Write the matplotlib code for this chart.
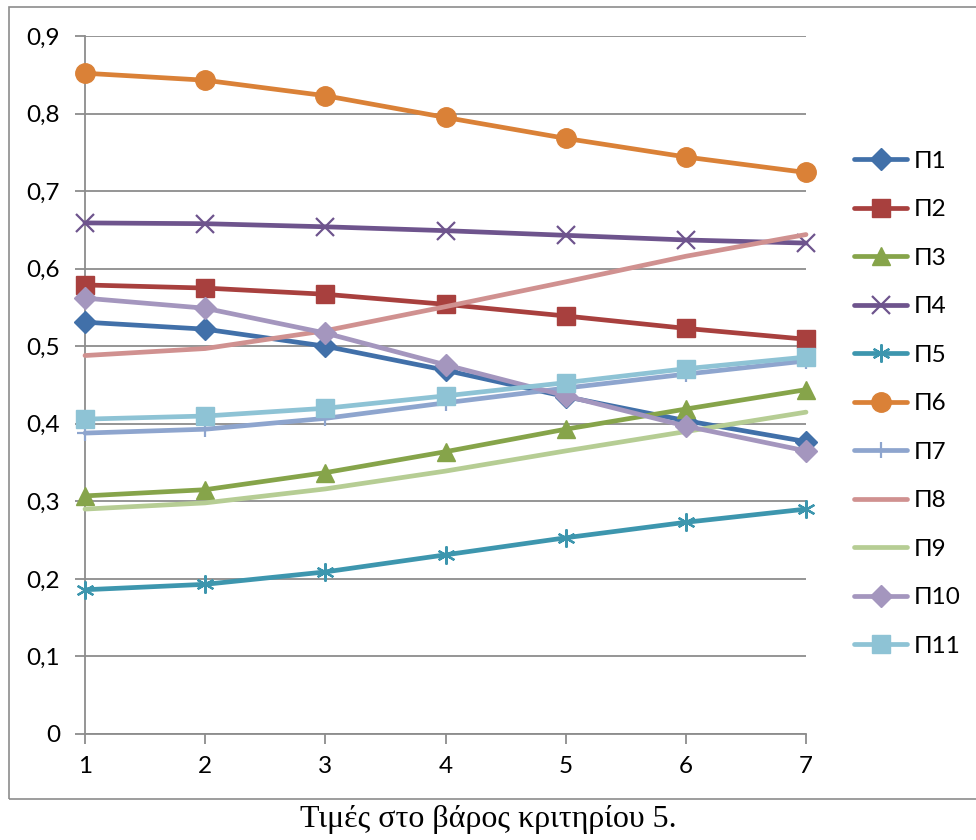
import matplotlib.pyplot as plt
import matplotlib.patches as mpatches
from matplotlib.ticker import FuncFormatter

# x positions and series values
x = [1, 2, 3, 4, 5, 6, 7]
p1 = [0.531, 0.522, 0.500, 0.469, 0.435, 0.404, 0.377]
p2 = [0.579, 0.575, 0.567, 0.554, 0.539, 0.523, 0.509]
p3 = [0.307, 0.315, 0.337, 0.364, 0.393, 0.419, 0.444]
p4 = [0.659, 0.658, 0.654, 0.649, 0.643, 0.637, 0.633]
p5 = [0.186, 0.193, 0.209, 0.231, 0.253, 0.273, 0.290]
p6 = [0.852, 0.843, 0.823, 0.795, 0.768, 0.744, 0.724]
p7 = [0.388, 0.393, 0.407, 0.427, 0.446, 0.464, 0.481]
p8 = [0.488, 0.497, 0.520, 0.551, 0.583, 0.616, 0.644]
p9 = [0.290, 0.298, 0.316, 0.339, 0.365, 0.390, 0.415]
p10 = [0.562, 0.549, 0.517, 0.476, 0.436, 0.397, 0.365]
p11 = [0.406, 0.410, 0.420, 0.436, 0.453, 0.471, 0.486]

names = ['Π1', 'Π2', 'Π3', 'Π4', 'Π5', 'Π6', 'Π7', 'Π8', 'Π9', 'Π10', 'Π11']
series = [p1, p2, p3, p4, p5, p6, p7, p8, p9, p10, p11]

colors = ['#4170A9', '#A8403E', '#86A44A', '#6E548D', '#3D96AE', '#DA8137',
          '#8EA5CE', '#D09190', '#B6CD94', '#A496BE', '#8EC3D5']
markers = ['D', 's', '^', 'x', (6, 2, 0), 'o', '+', None, None, 'D', 's']
msizes = [11, 13, 13, 13, 13, 14, 12, 0, 0, 11, 13]

plt.rcParams['font.family'] = ['Lato', 'DejaVu Sans']

fig = plt.figure(figsize=(9.76, 8.4), dpi=100)
ax = fig.add_axes([85 / 976, 1 - 734 / 840, 721 / 976, 698 / 840])

# outer frame around chart
fig.patches.append(mpatches.Rectangle((9 / 976, 1 - 799 / 840), 1.0, 792 / 840,
                                      transform=fig.transFigure, fill=False,
                                      edgecolor='#8C8C8C', linewidth=1.2))

for vals, name, c, m, ms in zip(series, names, colors, markers, msizes):
    kw = dict(marker=m, markersize=ms) if m is not None else {}
    if m in ('x', '+', (6, 2, 0)):
        kw['markeredgewidth'] = 1.6
    ax.plot(x, vals, color=c, linewidth=3.4, label=name, solid_capstyle='round',
            clip_on=False, zorder=3, **kw)

ax.set_xlim(1, 7)
ax.set_ylim(0, 0.9)
ax.set_xticks(x)
ax.set_yticks([i / 10 for i in range(10)])
ax.yaxis.set_major_formatter(FuncFormatter(
    lambda v, p: '0' if abs(v) < 1e-9 else ('%.1f' % v).replace('.', ',')))
ax.grid(axis='y', color='#8C8C8C', linewidth=1.3)
ax.set_axisbelow(True)
for s in ['top', 'right']:
    ax.spines[s].set_visible(False)
for s in ['left', 'bottom']:
    ax.spines[s].set_color('#8C8C8C')
    ax.spines[s].set_linewidth(1.3)
ax.tick_params(axis='both', colors='#8C8C8C', length=7, width=1.3,
               labelcolor='black', labelsize=17.5)
ax.tick_params(axis='x', pad=9)
ax.tick_params(axis='y', pad=11)

leg = ax.legend(loc='upper left', bbox_to_anchor=(832 / 976, 1 - 129 / 840),
                bbox_transform=fig.transFigure, frameon=False, fontsize=17.5,
                handlelength=2.2, labelspacing=1.13, handletextpad=0.25)

fig.text(0.5, 1 - 820 / 840, 'Τιμές στο βάρος κριτηρίου 5.', ha='center', va='center',
         fontsize=23, family='Liberation Serif')

fig.savefig('out.png', dpi=100)
